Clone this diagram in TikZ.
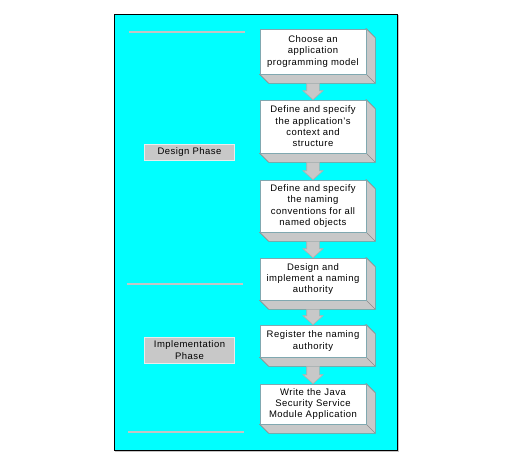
\documentclass[tikz,border=0pt]{standalone}
\usepackage{fontspec}
\setmainfont{Liberation Sans}[LetterSpace=5]
\usetikzlibrary{calc}
\definecolor{bgcyan}{HTML}{00FFFF}
\definecolor{sidegray}{HTML}{C8C8C8}
\definecolor{edgegray}{HTML}{8C8C8C}
\definecolor{frontedge}{HTML}{80A8B0}
\definecolor{linegray}{HTML}{C4C4C4}
\tikzset{
  stepbox/.style={draw=frontedge, line width=0.6pt, fill=white, minimum width=106pt,
    inner sep=0pt, align=center, font=\fontsize{9.5pt}{11.3pt}\selectfont},
  phasebox/.style={draw=white!85!gray, line width=0.6pt, fill=sidegray, minimum width=90pt,
    inner sep=0pt, align=center, font=\fontsize{9.5pt}{11.3pt}\selectfont},
  extrude/.style={fill=sidegray, draw=edgegray, line width=0.6pt},
  blockarrow/.style={fill=sidegray, draw=edgegray!70, line width=0.6pt},
  rule/.style={draw=linegray, line width=1.8pt}
}
\newcommand{\extrudebox}[1]{%
  \path[extrude] (#1.south west) -- ++(9,9) -- ($(#1.south east)+(9,9)$)
    -- ($(#1.north east)+(9,9)$) -- (#1.north east) -- cycle;
  \draw[edgegray, line width=0.6pt] (#1.south east) -- ++(9,9);
}
\newcommand{\blockarr}[2]{%
  \path[blockarrow] ($(#1.south)+(-6.3,9)$) -- ($(#1.south)+(6.3,9)$)
    -- ($(#2.north)+(6.3,-9)$) -- ($(#2.north)+(10,-9)$) -- (#2.north)
    -- ($(#2.north)+(-10,-9)$) -- ($(#2.north)+(-6.3,-9)$) -- cycle;
}
\begin{document}
\begin{tikzpicture}[x=1pt, y=-1pt]
\useasboundingbox (0,0) rectangle (512,464);
% frame
\draw[linegray, line width=0.8pt] (115,451) -- (398,451) -- (398,15);
\draw[black, line width=0.8pt, fill=bgcyan] (114,14) rectangle (397,450);
% rules
\draw[rule] (129,32.3) -- (245,32.3);
\draw[rule] (127,284.3) -- (243,284.3);
\draw[rule] (128,432.3) -- (244,432.3);
% phase boxes
\node[phasebox, minimum height=16pt] (design) at (189.5,152) {Design Phase};
\node[phasebox, minimum height=26pt] (impl) at (189.5,350) {Implementation\\Phase};
% steps
\node[stepbox, minimum height=45pt] (b1) at (313,51.5) {};
\node[stepbox, minimum height=53pt] (b2) at (313,126.5) {};
\node[stepbox, minimum height=52pt] (b3) at (313,206) {};
\node[stepbox, minimum height=42pt] (b4) at (313,279) {};
\node[stepbox, minimum height=32pt] (b5) at (313,341) {};
\node[stepbox, minimum height=40pt] (b6) at (313,404) {};
\foreach \b in {b1,b2,b3,b4,b5,b6} {\extrudebox{\b}}
\blockarr{b1}{b2}
\blockarr{b2}{b3}
\blockarr{b3}{b4}
\blockarr{b4}{b5}
\blockarr{b5}{b6}
\node[stepbox, minimum height=45pt] at (b1) {Choose an\\application\\programming model};
\node[stepbox, minimum height=53pt] at (b2) {Define and specify\\the application’s\\context and\\structure};
\node[stepbox, minimum height=52pt] at (b3) {Define and specify\\the naming\\conventions for all\\named objects};
\node[stepbox, minimum height=42pt] at (b4) {Design and\\implement a naming\\authority};
\node[stepbox, minimum height=32pt] at (b5) {Register the naming\\authority};
\node[stepbox, minimum height=40pt] at (b6) {Write the Java\\Security Service\\Module Application};
\end{tikzpicture}
\end{document}
